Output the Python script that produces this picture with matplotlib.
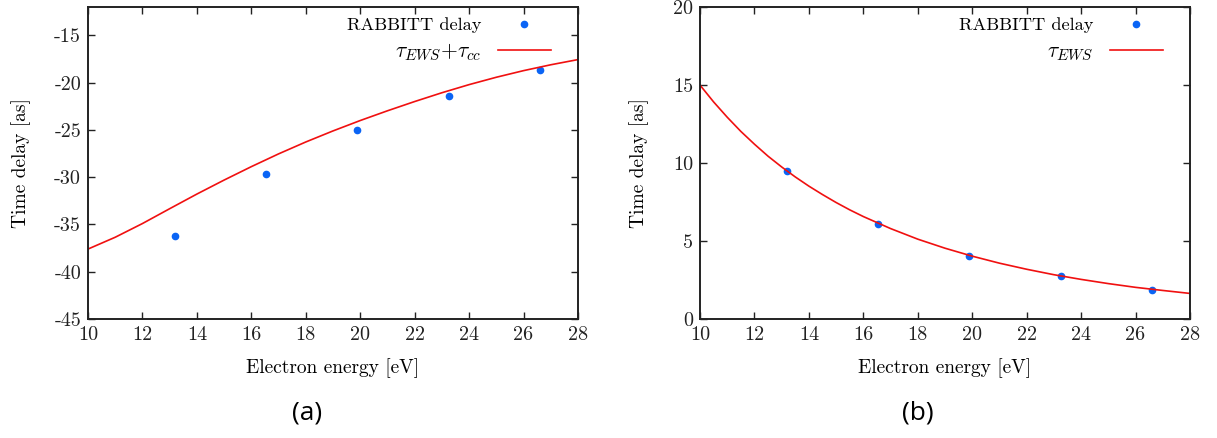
import numpy as np
import matplotlib
matplotlib.use("Agg")
import matplotlib.pyplot as plt

plt.rcParams["font.family"] = "serif"
plt.rcParams["font.serif"] = ["cmr10"]
plt.rcParams["mathtext.fontset"] = "cm"
plt.rcParams["axes.unicode_minus"] = False
plt.rcParams["axes.formatter.use_mathtext"] = True

# RABBITT sideband energies and measured delays
energy_pts = [13.2, 16.55, 19.9, 23.25, 26.6]
delay_total = [-36.2, -29.7, -25.0, -21.45, -18.7]
delay_ews = [9.47, 6.09, 4.05, 2.74, 1.88]

# theory curves
energy_a = [10, 11, 12, 13, 14, 15, 16, 17, 18, 19, 20, 21, 22, 23, 24,
            25, 26, 27, 28]
tau_ews_cc = [-37.6, -36.35, -34.9, -33.33, -31.78, -30.3, -28.88, -27.53,
              -26.27, -25.1, -24.0, -22.97, -21.99, -21.06, -20.2, -19.42,
              -18.72, -18.1, -17.55]
energy_b = [10, 10.5, 11, 11.5, 12, 12.5, 13, 13.5, 14, 14.5, 15, 15.5, 16,
            17, 18, 19, 20, 21, 22, 23, 24, 25, 26, 27, 28]
tau_ews = [15.0, 13.92, 12.94, 12.03, 11.21, 10.44, 9.75, 9.11, 8.52, 7.98,
           7.47, 7.0, 6.57, 5.80, 5.12, 4.54, 4.03, 3.58, 3.19, 2.84, 2.54,
           2.27, 2.03, 1.83, 1.64]

x_ticks = list(range(10, 29, 2))
y_ticks_a = [-45, -40, -35, -30, -25, -20, -15]
y_ticks_b = [0, 5, 10, 15, 20]

dot_color = "#0a64f5"
line_color = "#f01010"
fs_tick = 14.5
fs_label = 14
fs_leg = 13.2

fig = plt.figure(figsize=(12.17, 4.38), dpi=100)
ax_a = fig.add_axes([0.0723, 0.2717, 0.4026, 0.712])
ax_b = fig.add_axes([0.5752, 0.2717, 0.4026, 0.712])


def style(ax, yticks, ylim, ex, curve, curve_label, pts):
    ax.plot(energy_pts, pts, "o", color=dot_color, ms=4.5, label="RABBITT delay")
    ax.plot(ex, curve, "-", color=line_color, lw=1.2, label=curve_label)
    ax.set_xlim(10, 28)
    ax.set_ylim(*ylim)
    ax.set_xticks(x_ticks)
    ax.set_xticklabels([str(t) for t in x_ticks])
    ax.set_yticks(yticks)
    ax.set_yticklabels([str(t) for t in yticks])
    ax.tick_params(direction="in", length=5, width=1, top=True, right=True,
                   labelsize=fs_tick, pad=5, colors="#222222")
    for s in ax.spines.values():
        s.set_linewidth(1.4)
        s.set_color("#222222")
    ax.set_xlabel("Electron energy [eV]", fontsize=fs_label, labelpad=10)
    ax.set_ylabel("Time delay [as]", fontsize=fs_label, labelpad=17)
    leg = ax.legend(loc="upper right", frameon=False, markerfirst=False,
                    fontsize=fs_leg, handlelength=2.9, handletextpad=0.9,
                    labelspacing=0.4, borderaxespad=0.0,
                    bbox_to_anchor=(0.96, 0.99))
    texts = leg.get_texts()
    for t in texts:
        t.set_ha("right")
    # the tau label reads larger in latex-style output
    texts[1].set_fontsize(15.5)


style(ax_a, y_ticks_a, (-45, -12), energy_a, tau_ews_cc,
      r"$\tau_{EWS}$+$\tau_{cc}$", delay_total)
style(ax_b, y_ticks_b, (0, 20), energy_b, tau_ews, r"$\tau_{EWS}$", delay_ews)

fig.text(307 / 1217, 1 - 413 / 438, "(a)", ha="center", va="center",
         fontsize=19, family=["Open Sans", "DejaVu Sans"])
fig.text(918 / 1217, 1 - 413 / 438, "(b)", ha="center", va="center",
         fontsize=19, family=["Open Sans", "DejaVu Sans"])

fig.savefig("out.png", dpi=100)
